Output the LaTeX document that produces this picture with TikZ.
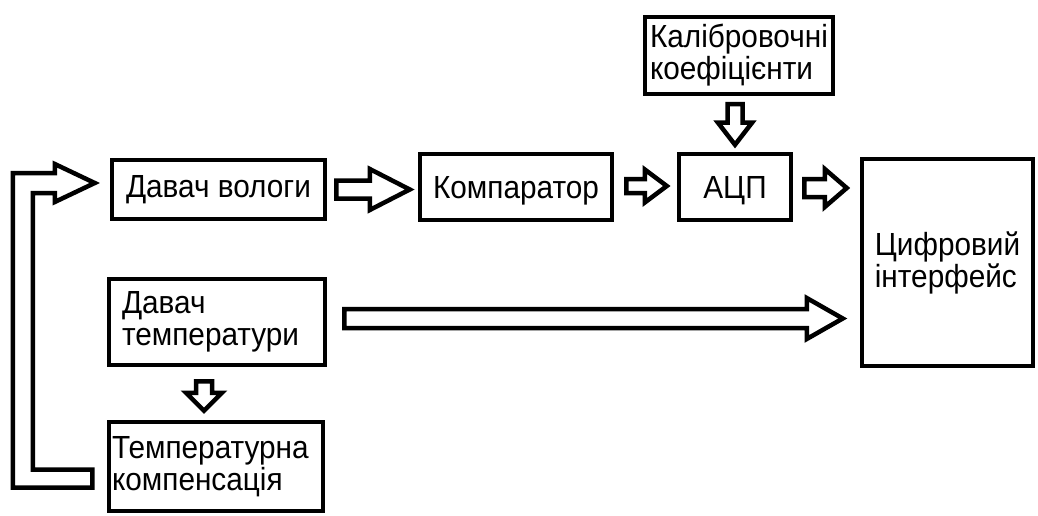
\documentclass[tikz,border=0pt]{standalone}
\usepackage{fontspec}
\setmainfont[FakeStretch=0.93]{Liberation Sans}
\usetikzlibrary{calc}
\tikzstyle{box} = [draw=black, line width=4.5pt, align=center, font=\fontsize{32}{32}\selectfont]
\tikzstyle{blockarrow} = [draw=black, line width=4.5pt, line join=miter]
% hollow arrows: start, tip, shaft half width, head half width, head length
\newcommand{\rarrow}[5]{\draw[blockarrow] let \p1=#1, \p2=#2 in
  (\x1,\y1+#3) -- (\x2-#5,\y1+#3) -- (\x2-#5,\y1+#4) -- (\x2,\y1)
  -- (\x2-#5,\y1-#4) -- (\x2-#5,\y1-#3) -- (\x1,\y1-#3) -- cycle;}
\newcommand{\darrow}[5]{\draw[blockarrow] let \p1=#1, \p2=#2 in
  (\x1+#3,\y1) -- (\x1+#3,\y2+#5) -- (\x1+#4,\y2+#5) -- (\x1,\y2)
  -- (\x1-#4,\y2+#5) -- (\x1-#3,\y2+#5) -- (\x1-#3,\y1) -- cycle;}

\begin{document}
\begin{tikzpicture}[x=1pt,y=-1pt]
\useasboundingbox (0,0) rectangle (1038,516);
\node[box, minimum width=213pt, minimum height=59pt] (vol) at (218.5,189.5) {Давач вологи};
\node[box, minimum width=192pt, minimum height=66pt, text depth=0pt] (komp) at (516,187) {Компаратор};
\node[box, minimum width=112pt, minimum height=66pt, text depth=0pt] (adc) at (735,187) {АЦП};
\node[box, minimum width=188pt, minimum height=77pt, align=left, text width=178pt, inner xsep=5pt] (calib) at (739,55.5) {Калібровочні\\коефіцієнти};
\node[box, minimum width=171pt, minimum height=207pt, align=left] (digit) at (947.5,262.5) {Цифровий\\інтерфейс};
\node[box, minimum width=216pt, minimum height=86pt, align=left, text width=190pt, inner xsep=13pt] (temp) at (217,322) {Давач\\температури};
\node[box, minimum width=214pt, minimum height=89pt, align=left, text width=208pt, inner xsep=3pt] (comp) at (216,466.5) {Температурна\\компенсація};

\rarrow{($(vol.east)+(9,0)$)}{($(komp.west)+(-8,0)$)}{9pt}{20.5pt}{40pt}
\rarrow{($(komp.east)+(12,-1)$)}{($(adc.west)+(-10,0)$)}{7pt}{16.5pt}{22pt}
\rarrow{($(adc.east)+(11,1)$)}{($(digit.west)+(-13,0)$)}{9pt}{19pt}{22pt}
\rarrow{($(temp.east)+(17,-3.5)$)}{($(digit.west)+(-17,0)$)}{9.5pt}{20.5pt}{36pt}
\darrow{($(calib.south)+(-4,8)$)}{($(adc.north)+(0,-7)$)}{7.5pt}{17pt}{22pt}
\darrow{($(temp.south)+(-13,14)$)}{($(comp.north)+(0,-9)$)}{8pt}{18pt}{18pt}

% feedback from compensation back to humidity sensor
\coordinate (fbtail) at ($(comp.west)+(-14.5,12)$);
\coordinate (fbtip) at ($(vol.west)+(-15,-6.5)$);
\coordinate (fbcorner) at ($(fbtail)+(-69.5,0)$);
\draw[blockarrow] ($(fbtail)+(0,9)$) -- ($(fbcorner)+(-10,9)$)
  -- ($(fbcorner |- fbtip)+(-10,-10)$) -- ($(fbtip)+(-40,-10)$)
  -- ($(fbtip)+(-40,-19)$) -- (fbtip) -- ($(fbtip)+(-40,19)$)
  -- ($(fbtip)+(-40,10)$) -- ($(fbcorner |- fbtip)+(10,10)$)
  -- ($(fbcorner)+(10,-9)$) -- ($(fbtail)+(0,-9)$) -- cycle;
\end{tikzpicture}
\end{document}
